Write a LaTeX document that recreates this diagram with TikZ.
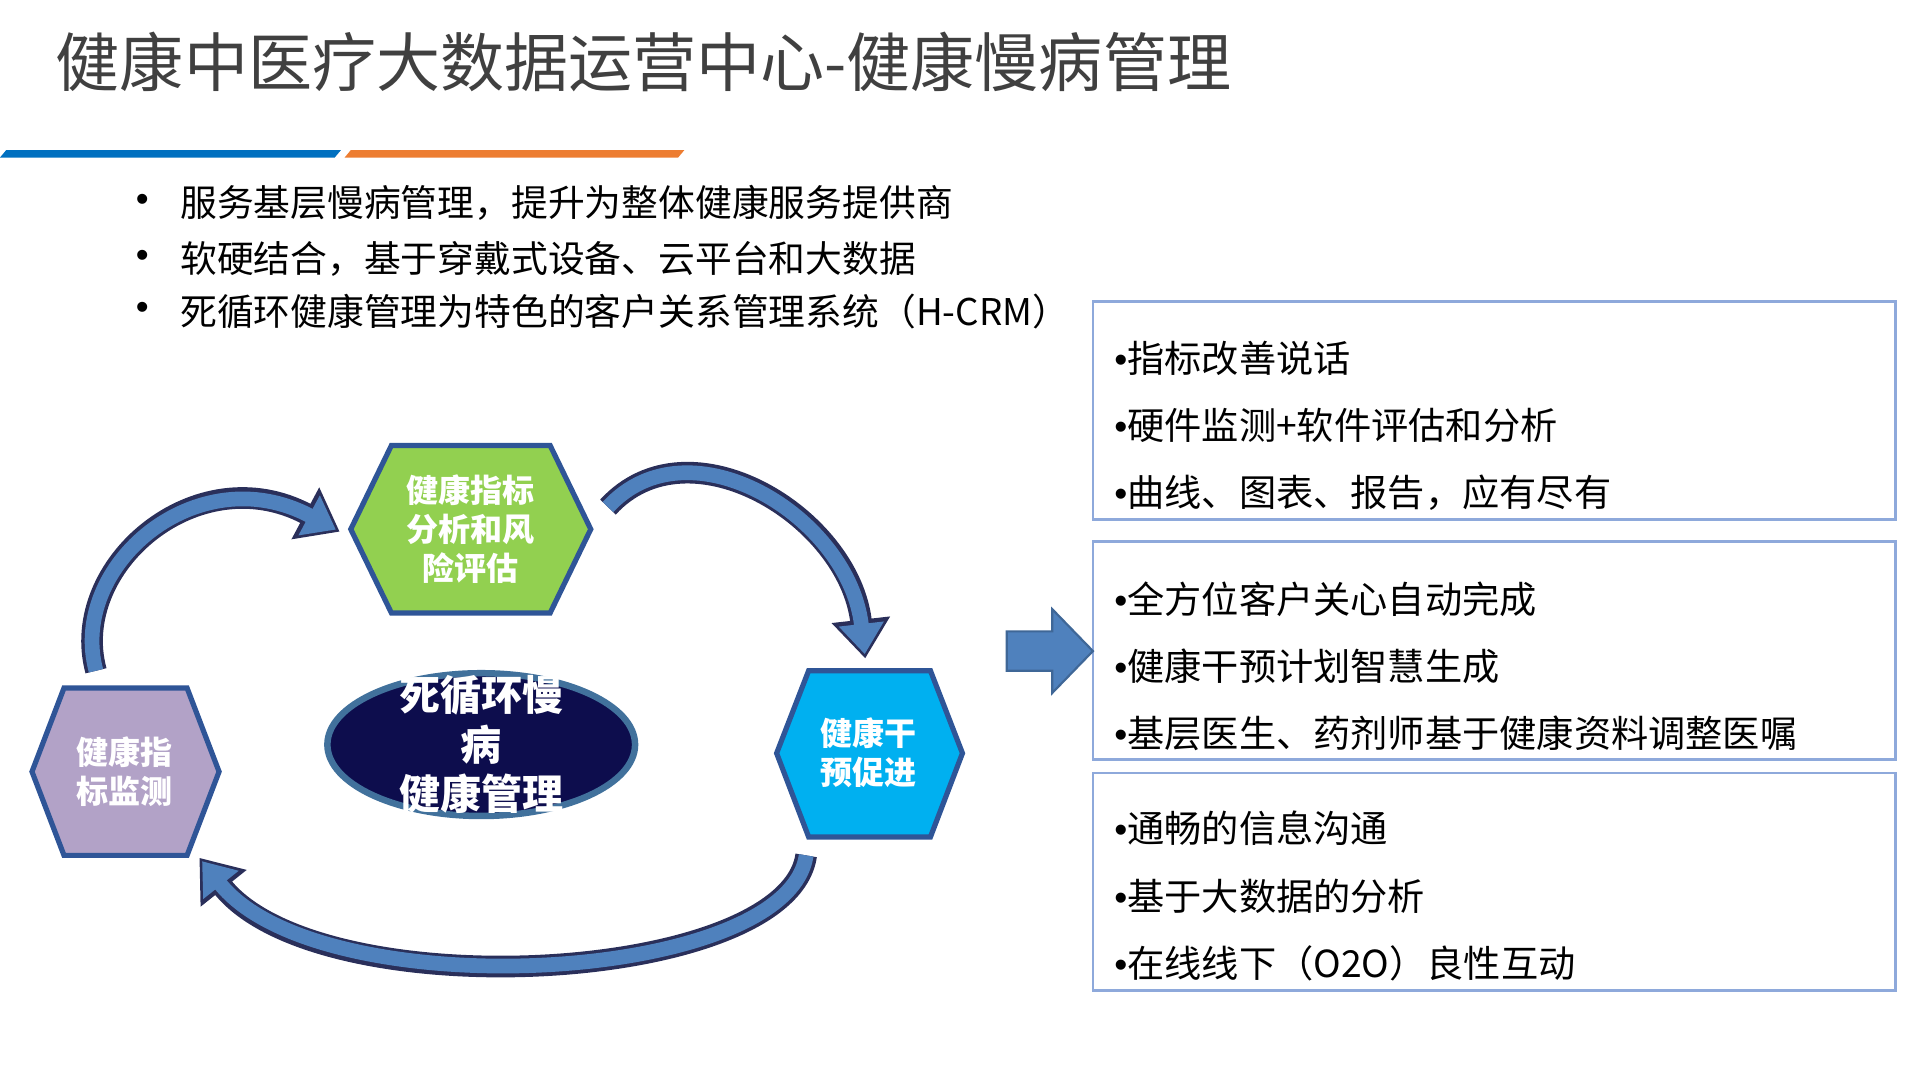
\documentclass[tikz,border=0pt]{standalone}
\usepackage{fontspec}
\setmainfont{Noto Sans CJK SC}
\newfontfamily\latinf{Liberation Sans}
\usetikzlibrary{arrows.meta}
\definecolor{tgray}{HTML}{404040}
\definecolor{bline}{HTML}{0070C0}
\definecolor{oline}{HTML}{ED7D31}
\definecolor{boxb}{HTML}{8EA9DB}
\definecolor{hexb}{HTML}{2F5597}
\definecolor{arrblue}{HTML}{4F81BD}
\definecolor{arrdark}{HTML}{2A2F5A}
\definecolor{navy}{HTML}{0D0D4D}
\definecolor{g1}{HTML}{92D050}\definecolor{p1}{HTML}{B2A2C7}\definecolor{c1}{HTML}{00B0F0}
\definecolor{ellb}{HTML}{41719C}
\newcommand{\bdot}{{\latinf •}}
\tikzset{
 bul/.style={anchor=west,font=\fontsize{8.5}{10}\selectfont,text=black},
 itm/.style={anchor=west,font=\fontsize{8.6}{11}\selectfont,text=black},
 infobox/.style={draw=boxb,line width=0.6pt},
 hex/.style={draw=hexb,line width=1.2pt},
 hextxt/.style={text=white,font=\bfseries\fontsize{7.4}{9}\selectfont,align=center},
 cyc/.style={line width=5pt,draw=arrdark,-{Triangle[length=9pt,width=13pt]},
   postaction={draw=arrblue,line width=3.4pt,-{Triangle[length=7pt,width=10pt]},shorten >=1pt}},
}
\begin{document}
\begin{tikzpicture}[x=0.01cm,y=-0.01cm]
\useasboundingbox (0,0) rectangle (1560,877);
\node[anchor=west,text=tgray,font=\fontsize{14.8}{17}\selectfont] (title) at (33,50) {健康中医疗大数据运营中心-健康慢病管理};
\fill[bline] (0,128) -- (5,122) -- (277,122) -- (272,128) -- cycle;
\fill[oline] (280,128) -- (285,122) -- (556,122) -- (551,128) -- cycle;
\foreach \y/\t [count=\i] in {165/服务基层慢病管理，提升为整体健康服务提供商,210/软硬结合，基于穿戴式设备、云平台和大数据,253/死循环健康管理为特色的客户关系管理系统（H-CRM）}{
 \node[bul] (d\i) at (98,\y) {\bdot};
 \node[bul] (b\i) at (134,\y) {\t};
}
\draw[infobox] (888,245) rectangle (1540,422);
\draw[infobox] (888,440) rectangle (1540,617);
\draw[infobox] (888,628) rectangle (1540,805);
\node[itm] (t1) at (893,291) {\bdot 指标改善说话};
\node[itm] (t2) at (893,346) {\bdot 硬件监测+软件评估和分析};
\node[itm] (t3) at (893,400) {\bdot 曲线、图表、报告，应有尽有};
\node[itm] (t4) at (893,487) {\bdot 全方位客户关心自动完成};
\node[itm] (t5) at (893,541) {\bdot 健康干预计划智慧生成};
\node[itm] (t6) at (893,596) {\bdot 基层医生、药剂师基于健康资料调整医嘱};
\node[itm] (t7) at (893,673) {\bdot 通畅的信息沟通};
\node[itm] (t8) at (893,728) {\bdot 基于大数据的分析};
\node[itm] (t9) at (893,783) {\bdot 在线线下（O2O）良性互动};
% big arrow
\fill[arrblue,draw=arrblue!80!black,line width=0.5pt] (818,513) -- (855,513) -- (855,495) -- (888,529) -- (855,563) -- (855,545) -- (818,545) -- cycle;
% hexagons
\filldraw[hex,fill=g1] (285,430) -- (318,362) -- (447,362) -- (480,430) -- (447,498) -- (318,498) -- cycle;
\node[hextxt] (h1) at (382,430) {健康指标\\分析和风\\险评估};
\filldraw[hex,fill=p1] (26,627) -- (52,559) -- (152,559) -- (178,627) -- (152,695) -- (52,695) -- cycle;
\node[hextxt] (h2) at (101,627) {健康指\\标监测};
\filldraw[hex,fill=c1] (631,612) -- (657,545) -- (756,545) -- (782,612) -- (756,680) -- (657,680) -- cycle;
\node[hextxt] (h3) at (706,612) {健康干\\预促进};
\filldraw[fill=navy,draw=ellb,line width=1.5pt] (391,605) ellipse [x radius=125,y radius=58];
\node[text=white,font=\bfseries\fontsize{9.5}{11.5}\selectfont,align=center] (c) at (391,605) {死循环慢\\病\\健康管理};
% cycle arrows
\coordinate (a1s) at (78,545); \coordinate (a1e) at (276,432);
\coordinate (a2s) at (494,412); \coordinate (a2e) at (703,535);
\coordinate (a3s) at (655,695); \coordinate (a3e) at (162,697);
\draw[cyc] (a1s) .. controls (55,460) and (160,370) .. (a1e);
\draw[cyc] (a2s) .. controls (560,340) and (690,420) .. (a2e);
\draw[cyc] (a3s) .. controls (640,800) and (260,820) .. (a3e);
\end{tikzpicture}
\end{document}
